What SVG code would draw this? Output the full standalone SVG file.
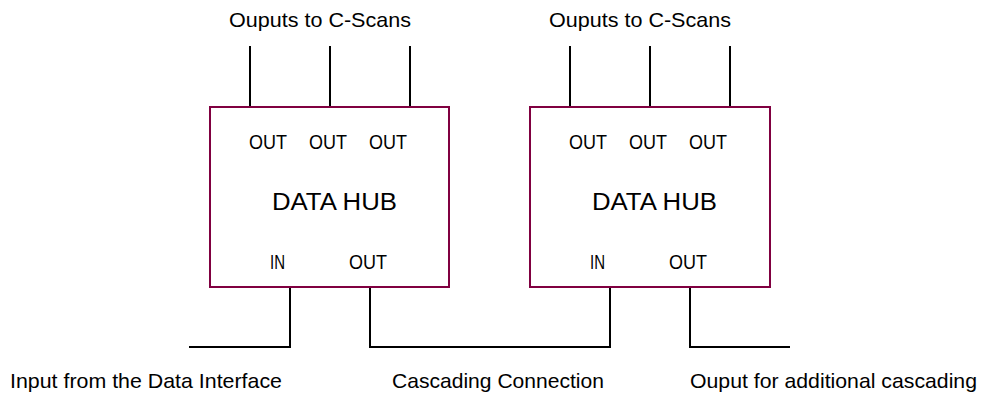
<svg xmlns="http://www.w3.org/2000/svg" width="987" height="394" viewBox="0 0 987 394">
<style>
.box{fill:#ffffff;stroke:#800040;stroke-width:2}
.ln{fill:none;stroke:#000000;stroke-width:2}
text{font-family:"Liberation Sans",Arial,sans-serif;fill:#000000}
.lbl{font-size:21px}
.port{font-size:21px}
.title{font-size:23px}
</style>
<rect width="987" height="394" fill="#ffffff"/>
<g id="connectors">
<path class="ln" d="M250 46V107M330 46V107M410 46V107"/>
<path class="ln" d="M570 46V107M650 46V107M730 46V107"/>
<path class="ln" d="M290 287V347H189"/>
<path class="ln" d="M370 287V347H610V287"/>
<path class="ln" d="M690 287V347H790"/>
</g>
<g id="hub1">
<rect class="box" x="210" y="107" width="239" height="180"/>
<text class="port" x="249" y="149" textLength="38" lengthAdjust="spacingAndGlyphs">OUT</text>
<text class="port" x="309" y="149" textLength="38" lengthAdjust="spacingAndGlyphs">OUT</text>
<text class="port" x="369" y="149" textLength="38" lengthAdjust="spacingAndGlyphs">OUT</text>
<text class="title" x="272" y="210" textLength="125" lengthAdjust="spacingAndGlyphs">DATA HUB</text>
<text class="port" x="270" y="269" textLength="15" lengthAdjust="spacingAndGlyphs">IN</text>
<text class="port" x="349" y="269" textLength="38" lengthAdjust="spacingAndGlyphs">OUT</text>
</g>
<g id="hub2">
<rect class="box" x="530" y="107" width="240" height="180"/>
<text class="port" x="569" y="149" textLength="38" lengthAdjust="spacingAndGlyphs">OUT</text>
<text class="port" x="629" y="149" textLength="38" lengthAdjust="spacingAndGlyphs">OUT</text>
<text class="port" x="689" y="149" textLength="38" lengthAdjust="spacingAndGlyphs">OUT</text>
<text class="title" x="592" y="210" textLength="125" lengthAdjust="spacingAndGlyphs">DATA HUB</text>
<text class="port" x="590" y="269" textLength="15" lengthAdjust="spacingAndGlyphs">IN</text>
<text class="port" x="669" y="269" textLength="38" lengthAdjust="spacingAndGlyphs">OUT</text>
</g>
<g id="labels">
<text class="lbl" x="229" y="27" textLength="182" lengthAdjust="spacingAndGlyphs">Ouputs to C-Scans</text>
<text class="lbl" x="549" y="27" textLength="182" lengthAdjust="spacingAndGlyphs">Ouputs to C-Scans</text>
<text class="lbl" x="10" y="388" textLength="272" lengthAdjust="spacingAndGlyphs">Input from the Data Interface</text>
<text class="lbl" x="392" y="388" textLength="212" lengthAdjust="spacingAndGlyphs">Cascading Connection</text>
<text class="lbl" x="690" y="388" textLength="287" lengthAdjust="spacingAndGlyphs">Ouput for additional cascading</text>
</g>
</svg>
